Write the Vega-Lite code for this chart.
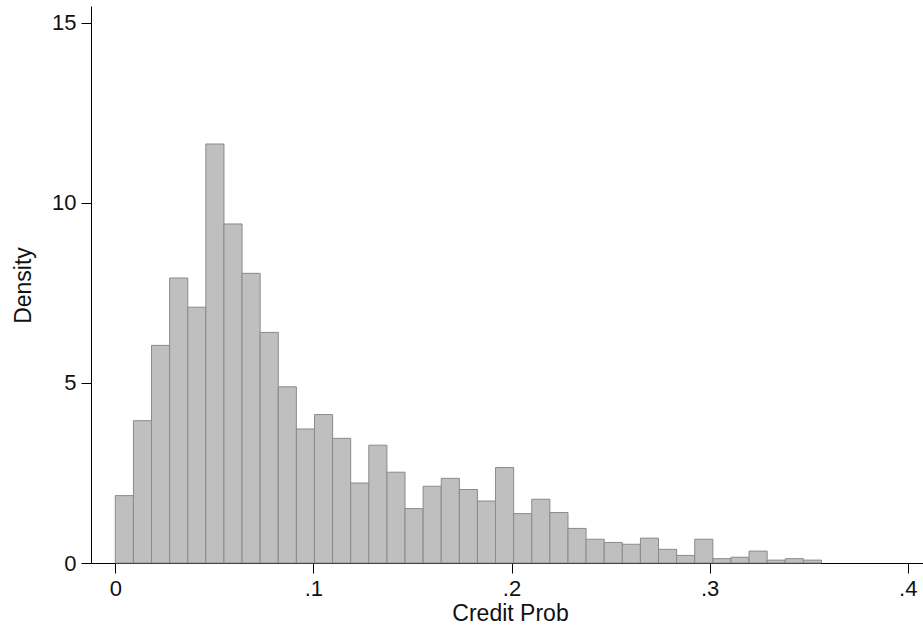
{
  "$schema": "https://vega.github.io/schema/vega-lite/v6.json",
  "width": 832,
  "height": 557,
  "autosize": {"type": "none"},
  "padding": {"left": 91, "top": 6, "right": 0, "bottom": 68},
  "background": "white",
  "config": {
    "view": {"stroke": null},
    "font": "Liberation Sans",
    "axis": {
      "grid": false,
      "domainColor": "#000000",
      "domainWidth": 1,
      "tickColor": "#000000",
      "tickWidth": 1,
      "tickSize": 10,
      "labelPadding": 5,
      "labelFont": "Liberation Sans",
      "labelFontSize": 22,
      "labelColor": "#111111",
      "titleFont": "Liberation Sans",
      "titleFontSize": 23,
      "titleFontWeight": "normal",
      "titleColor": "#111111"
    }
  },
  "data": {
    "values": [
      {"start": 0.0, "end": 0.00914, "density": 1.87},
      {"start": 0.00914, "end": 0.01828, "density": 3.95},
      {"start": 0.01828, "end": 0.02742, "density": 6.04},
      {"start": 0.02742, "end": 0.03656, "density": 7.91},
      {"start": 0.03656, "end": 0.0457, "density": 7.10},
      {"start": 0.0457, "end": 0.05484, "density": 11.63},
      {"start": 0.05484, "end": 0.06398, "density": 9.41},
      {"start": 0.06398, "end": 0.07312, "density": 8.04},
      {"start": 0.07312, "end": 0.08226, "density": 6.40},
      {"start": 0.08226, "end": 0.0914, "density": 4.89},
      {"start": 0.0914, "end": 0.10054, "density": 3.72},
      {"start": 0.10054, "end": 0.10968, "density": 4.12},
      {"start": 0.10968, "end": 0.11882, "density": 3.46},
      {"start": 0.11882, "end": 0.12796, "density": 2.22},
      {"start": 0.12796, "end": 0.1371, "density": 3.27},
      {"start": 0.1371, "end": 0.14624, "density": 2.52},
      {"start": 0.14624, "end": 0.15538, "density": 1.51},
      {"start": 0.15538, "end": 0.16452, "density": 2.13},
      {"start": 0.16452, "end": 0.17366, "density": 2.35},
      {"start": 0.17366, "end": 0.1828, "density": 2.04},
      {"start": 0.1828, "end": 0.19194, "density": 1.72},
      {"start": 0.19194, "end": 0.20108, "density": 2.65},
      {"start": 0.20108, "end": 0.21022, "density": 1.37},
      {"start": 0.21022, "end": 0.21936, "density": 1.77},
      {"start": 0.21936, "end": 0.2285, "density": 1.40},
      {"start": 0.2285, "end": 0.23764, "density": 0.96},
      {"start": 0.23764, "end": 0.24678, "density": 0.66},
      {"start": 0.24678, "end": 0.25592, "density": 0.57},
      {"start": 0.25592, "end": 0.26506, "density": 0.52},
      {"start": 0.26506, "end": 0.2742, "density": 0.69},
      {"start": 0.2742, "end": 0.28334, "density": 0.38},
      {"start": 0.28334, "end": 0.29248, "density": 0.21},
      {"start": 0.29248, "end": 0.30162, "density": 0.66},
      {"start": 0.30162, "end": 0.31076, "density": 0.12},
      {"start": 0.31076, "end": 0.3199, "density": 0.16},
      {"start": 0.3199, "end": 0.32904, "density": 0.33},
      {"start": 0.32904, "end": 0.33818, "density": 0.08},
      {"start": 0.33818, "end": 0.34732, "density": 0.12},
      {"start": 0.34732, "end": 0.35646, "density": 0.08}
    ]
  },
  "mark": {"type": "bar", "fill": "#bfbfbf", "stroke": "#8a8a8a", "strokeWidth": 1},
  "encoding": {
    "x": {
      "field": "start",
      "type": "quantitative",
      "scale": {"domain": [-0.01227, 0.4077], "nice": false, "zero": false},
      "axis": {
        "values": [0, 0.1, 0.2, 0.3, 0.4],
        "labelExpr": "datum.value == 0 ? '0' : slice(format(datum.value, '.1f'), 1)",
        "labelBaseline": "top",
        "labelFlush": false,
        "title": "Credit Prob",
        "titleX": 419,
        "titleY": 57,
        "titleBaseline": "alphabetic",
        "titleAlign": "center"
      }
    },
    "x2": {"field": "end"},
    "y": {
      "field": "density",
      "type": "quantitative",
      "scale": {"domain": [0, 15.46], "nice": false},
      "axis": {
        "values": [0, 5, 10, 15],
        "labelFlush": false,
        "title": "Density",
        "titleAngle": -90,
        "titleX": -61,
        "titleY": 279,
        "titleBaseline": "alphabetic",
        "titleAlign": "center"
      }
    },
    "y2": {"datum": 0}
  }
}
